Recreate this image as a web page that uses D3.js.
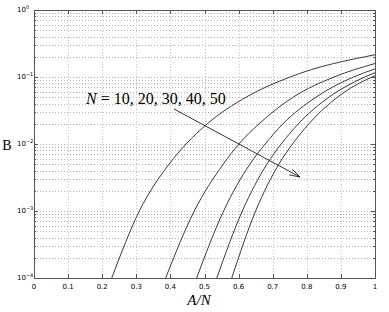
<!DOCTYPE html>
<html>
<head>
<meta charset="utf-8">
<script src="https://cdn.jsdelivr.net/npm/d3@7/dist/d3.min.js"></script>
<style>
  body { margin: 0; background: #fff; }
  svg { display: block; }
  .tick-label { font-family: "DejaVu Sans", sans-serif; font-size: 7px; fill: #000; }
</style>
</head>
<body>
<svg width="389" height="312"></svg>
<script>
// blocking probability levels where each curve's load was read
var blockLevels = [1e-4, 1e-3, 5e-3, 1e-2, 2e-2, 5e-2, 1e-1];
var channels = [10, 20, 30, 40, 50];
// load per channel (A/N) at each blocking level
var loadN10 = [0.228, 0.309, 0.396, 0.446, 0.508, 0.622, 0.751];
var loadN20 = [0.386, 0.470, 0.555, 0.601, 0.660, 0.760, 0.880];
var loadN30 = [0.477, 0.556, 0.633, 0.678, 0.730, 0.827, 0.937];
var loadN40 = [0.536, 0.611, 0.683, 0.725, 0.775, 0.865, 0.970];
var loadN50 = [0.580, 0.650, 0.718, 0.758, 0.806, 0.890, 0.992];
// blocking at A/N = 1
var blockAtFullLoad = [0.2146, 0.159, 0.132, 0.116, 0.104];
var xTicks = [0, 0.1, 0.2, 0.3, 0.4, 0.5, 0.6, 0.7, 0.8, 0.9, 1];
var yExponents = [0, -1, -2, -3, -4];

var svg = d3.select('svg');
// plot box edges (note: "top" is taken by window.top)
var plotLeft = 34, plotRight = 375, plotTop = 10, plotBottom = 278;

var x = d3.scaleLinear().domain([0, 1]).range([plotLeft, plotRight]);
var y = d3.scaleLog().domain([1e-4, 1]).range([plotBottom, plotTop]);

// grid
var minorY = [];
for (var e = -4; e < 0; e++) {
  for (var m = 1; m <= 9; m++) minorY.push(m * Math.pow(10, e));
}
svg.append('g').selectAll('line').data(minorY.slice(1)).enter().append('line')
  .attr('x1', plotLeft).attr('x2', plotRight)
  .attr('y1', function(d) { return Math.round(y(d)) + 0.5; })
  .attr('y2', function(d) { return Math.round(y(d)) + 0.5; })
  .attr('stroke', '#b4b4b4').attr('stroke-width', 1).attr('stroke-dasharray', '1,2');
svg.append('g').selectAll('line').data(xTicks.slice(1, -1)).enter().append('line')
  .attr('x1', function(d) { return Math.round(x(d)) + 0.5; })
  .attr('x2', function(d) { return Math.round(x(d)) + 0.5; })
  .attr('y1', plotTop).attr('y2', plotBottom)
  .attr('stroke', '#c8c8c8').attr('stroke-width', 1).attr('stroke-dasharray', '1,2');

// ticks on all four sides, pointing inwards
var tickG = svg.append('g').attr('stroke', '#555').attr('stroke-width', 1);
xTicks.forEach(function(t) {
  var px = Math.round(x(t)) + 0.5;
  tickG.append('line').attr('x1', px).attr('x2', px).attr('y1', plotBottom).attr('y2', plotBottom - 4);
  tickG.append('line').attr('x1', px).attr('x2', px).attr('y1', plotTop).attr('y2', plotTop + 4);
});
minorY.concat([1]).forEach(function(v) {
  var py = Math.round(y(v)) + 0.5;
  var len = (Math.abs(Math.log10(v) - Math.round(Math.log10(v))) < 1e-9) ? 4 : 2;
  tickG.append('line').attr('x1', plotLeft).attr('x2', plotLeft + len).attr('y1', py).attr('y2', py);
  tickG.append('line').attr('x1', plotRight).attr('x2', plotRight - len).attr('y1', py).attr('y2', py);
});

// curves
var loads = [loadN10, loadN20, loadN30, loadN40, loadN50];
var line = d3.line()
  .x(function(d) { return x(d[0]); })
  .y(function(d) { return y(d[1]); })
  .curve(d3.curveMonotoneX);
channels.forEach(function(n, i) {
  var pts = loads[i].map(function(l, j) { return [l, blockLevels[j]]; });
  pts.push([1, blockAtFullLoad[i]]);
  svg.append('path').datum(pts)
    .attr('d', line)
    .attr('fill', 'none')
    .attr('stroke', '#3a3a3a')
    .attr('stroke-width', 1);
});

// box
svg.append('rect')
  .attr('x', plotLeft + 0.5).attr('y', plotTop + 0.5)
  .attr('width', plotRight - plotLeft).attr('height', plotBottom - plotTop)
  .attr('fill', 'none').attr('stroke', '#555').attr('stroke-width', 1);

// tick labels
svg.append('g').selectAll('text').data(xTicks).enter().append('text')
  .attr('class', 'tick-label')
  .attr('x', function(d) { return x(d); })
  .attr('y', plotBottom + 11)
  .attr('text-anchor', 'middle')
  .text(function(d) { return d; });

yExponents.forEach(function(ex) {
  var t = svg.append('text').attr('class', 'tick-label')
    .attr('x', 17).attr('y', y(Math.pow(10, ex)) + 2);
  t.append('tspan').text('10');
  t.append('tspan').attr('dy', -3).attr('font-size', '5px').text(ex === 0 ? '0' : '\u2212' + (-ex));
});

// axis labels
svg.append('text')
  .attr('x', 199).attr('y', 305)
  .attr('text-anchor', 'middle')
  .attr('font-family', 'Liberation Serif, serif')
  .attr('font-style', 'italic')
  .attr('font-size', '15px')
  .text('A/N');
svg.append('text')
  .attr('x', 7).attr('y', 150)
  .attr('text-anchor', 'middle')
  .attr('font-family', 'Liberation Serif, serif')
  .attr('font-size', '14px')
  .text('B');

// annotation
var note = svg.append('text')
  .attr('x', 86).attr('y', 104)
  .attr('font-family', 'Liberation Serif, serif')
  .attr('font-size', '16px');
note.append('tspan').attr('font-style', 'italic').text('N');
note.append('tspan').text(' = 10, 20, 30, 40, 50');

var ax1 = 174, ay1 = 109, ax2 = 300, ay2 = 177;
svg.append('line')
  .attr('x1', ax1).attr('y1', ay1).attr('x2', ax2).attr('y2', ay2)
  .attr('stroke', '#333').attr('stroke-width', 1);
var ang = Math.atan2(ay2 - ay1, ax2 - ax1);
var head = 11, spread = 0.3;
svg.append('path')
  .attr('d', 'M' + (ax2 - head * Math.cos(ang - spread)) + ',' + (ay2 - head * Math.sin(ang - spread)) +
    'L' + ax2 + ',' + ay2 +
    'L' + (ax2 - head * Math.cos(ang + spread)) + ',' + (ay2 - head * Math.sin(ang + spread)))
  .attr('fill', 'none').attr('stroke', '#333').attr('stroke-width', 1);
</script>
</body>
</html>
